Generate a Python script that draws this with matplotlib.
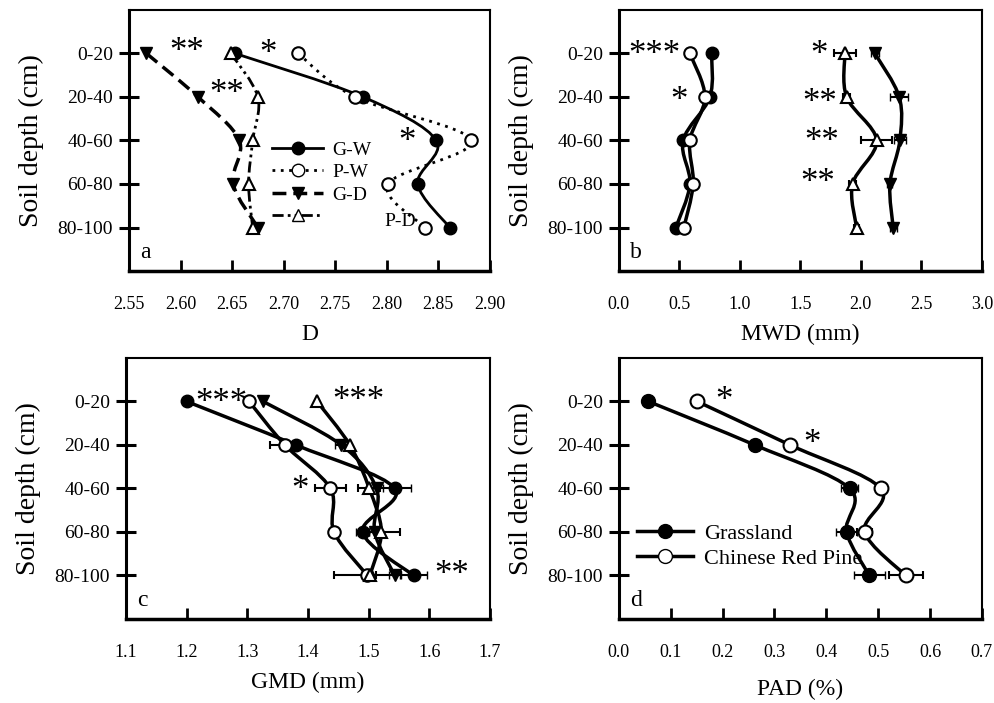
import matplotlib
matplotlib.use("Agg")
import matplotlib.pyplot as plt
from matplotlib.lines import Line2D
from matplotlib.path import Path
from matplotlib.patches import PathPatch
import numpy as np

plt.rcParams['font.family'] = ['Liberation Serif', 'DejaVu Serif']

depths = ['0-20', '20-40', '40-60', '60-80', '80-100']

# panel a: D
d_gw = [2.653, 2.777, 2.848, 2.830, 2.861]
d_pw = [2.714, 2.769, 2.882, 2.801, 2.837]
d_gd = [2.567, 2.617, 2.657, 2.651, 2.675]
d_pd = [2.649, 2.675, 2.670, 2.666, 2.670]

# panel b: MWD (mm)
mwd_gw = [0.766, 0.752, 0.531, 0.587, 0.471]
mwd_pw = [0.587, 0.711, 0.587, 0.614, 0.537]
mwd_pw_err = [0, 0, 0, 0, 0.03]
mwd_gd = [2.116, 2.317, 2.322, 2.240, 2.267]
mwd_gd_err = [0.03, 0.075, 0.05, 0.02, 0.03]
mwd_pd = [1.868, 1.882, 2.130, 1.931, 1.964]
mwd_pd_err = [0.09, 0.03, 0.13, 0.03, 0.02]

# panel c: GMD (mm)
gmd_gw = [1.200, 1.380, 1.543, 1.490, 1.574]
gmd_gw_err = [0, 0, 0.027, 0.01, 0.022]
gmd_pw = [1.303, 1.362, 1.437, 1.443, 1.498]
gmd_pw_err = [0, 0.024, 0.026, 0.005, 0.055]
gmd_gd = [1.326, 1.455, 1.513, 1.510, 1.543]
gmd_gd_err = [0, 0.01, 0.01, 0.01, 0.01]
gmd_pd = [1.415, 1.469, 1.501, 1.521, 1.502]
gmd_pd_err = [0, 0, 0.018, 0.03, 0.01]

# panel d: PAD (%)
pad_g = [0.057, 0.262, 0.445, 0.439, 0.483]
pad_g_err = [0.005, 0.005, 0.016, 0.02, 0.03]
pad_p = [0.151, 0.330, 0.505, 0.474, 0.553]
pad_p_err = [0.01, 0.005, 0.01, 0.015, 0.033]

ypos = np.arange(1, 6)


def smooth(ax, xs, ys, **kw):
    # excel-like smoothed line through the points (cardinal spline)
    pts = np.column_stack([xs, ys]).astype(float)
    verts = [pts[0]]
    codes = [Path.MOVETO]
    n = len(pts)
    for i in range(n - 1):
        p0 = pts[max(i - 1, 0)]
        p1 = pts[i]
        p2 = pts[i + 1]
        p3 = pts[min(i + 2, n - 1)]
        c1 = p1 + (p2 - p0) / 6.0
        c2 = p2 - (p3 - p1) / 6.0
        verts += [c1, c2, p2]
        codes += [Path.CURVE4] * 3
    ax.add_patch(PathPatch(Path(verts, codes), fill=False, **kw))


def style(ax, xlim, xticks, xfmt, xlabel, letter, labelpad=8):
    ax.set_ylim(6, 0)
    ax.set_xlim(*xlim)
    ax.set_yticks(ypos)
    ax.set_yticklabels(depths, fontsize=14)
    ax.set_xticks(xticks)
    ax.set_xticklabels([xfmt % v for v in xticks], fontsize=13)
    ax.tick_params(axis='y', direction='inout', length=15, width=2.2, pad=4)
    ax.tick_params(axis='x', direction='in', length=8, width=2, pad=18)
    for s in ax.spines.values():
        s.set_linewidth(1.5)
    ax.spines['bottom'].set_linewidth(2.5)
    ax.spines['left'].set_linewidth(2.2)
    ax.set_xlabel(xlabel, fontsize=17, labelpad=labelpad)
    ax.set_ylabel('Soil depth (cm)', fontsize=20, labelpad=10)
    ax.text(0.03, 0.03, letter, transform=ax.transAxes, fontsize=17,
            ha='left', va='bottom')


def star(ax, x, y, s):
    ax.text(x, y, s, fontsize=25, ha='center', va='center')


fig = plt.figure(figsize=(9.95, 7.03), dpi=100)
ax_a = fig.add_axes([0.1296, 0.6145, 0.3628, 0.3713])
ax_b = fig.add_axes([0.622, 0.6145, 0.3648, 0.3713])
ax_c = fig.add_axes([0.1266, 0.1195, 0.3658, 0.3713])
ax_d = fig.add_axes([0.622, 0.1195, 0.3648, 0.3713])

# ---- a
lw = 2
smooth(ax_a, d_gw, ypos, color='black', lw=lw, linestyle='-')
smooth(ax_a, d_pw, ypos, color='black', lw=lw, linestyle=(0, (1, 2)))
smooth(ax_a, d_gd, ypos, color='black', lw=lw + 0.5, linestyle=(0, (4, 2)))
smooth(ax_a, d_pd, ypos, color='black', lw=lw, linestyle=(0, (4, 1.5, 1, 1.5, 1, 1.5)))
ax_a.plot(d_gw, ypos, 'o', color='black', ms=9)
ax_a.plot(d_pw, ypos, 'o', mfc='white', mec='black', mew=1.5, ms=9)
ax_a.plot(d_gd, ypos, 'v', color='black', ms=9)
ax_a.plot(d_pd, ypos, '^', mfc='white', mec='black', mew=1.5, ms=9)
handles = [
    Line2D([], [], color='black', lw=lw, marker='o', ms=9),
    Line2D([], [], color='black', lw=lw, ls=(0, (1, 2)), marker='o', mfc='white', ms=9),
    Line2D([], [], color='black', lw=lw + 0.5, ls=(0, (4, 2)), marker='v', ms=9),
    Line2D([], [], color='black', lw=lw, ls=(0, (4, 1.5, 1, 1.5, 1, 1.5)), marker='^',
           mfc='white', ms=9),
]
ax_a.legend(handles, ['G-W', 'P-W', 'G-D', ''], loc='upper left',
            bbox_to_anchor=(0.37, 0.535), frameon=False, fontsize=14,
            handlelength=2.6, labelspacing=0.25, borderpad=0, handletextpad=0.5)
ax_a.text(2.813, 4.87, 'P-D', fontsize=14, ha='center', va='center')
star(ax_a, 2.606, 0.98, '**')
star(ax_a, 2.685, 1.02, '*')
star(ax_a, 2.645, 1.95, '**')
star(ax_a, 2.820, 3.05, '*')
style(ax_a, (2.55, 2.90), [2.55, 2.60, 2.65, 2.70, 2.75, 2.80, 2.85, 2.90], '%.2f', 'D', 'a')

# ---- b
lw = 2.5
for xs in [mwd_gw, mwd_pw, mwd_gd, mwd_pd]:
    smooth(ax_b, xs, ypos, color='black', lw=lw)
ax_b.errorbar(mwd_gw, ypos, fmt='o', color='black', ms=9)
ax_b.errorbar(mwd_pw, ypos, xerr=mwd_pw_err, fmt='o', mfc='white', mec='black',
              mew=1.5, ms=9, ecolor='black', capsize=3, elinewidth=1.5)
ax_b.errorbar(mwd_gd, ypos, xerr=mwd_gd_err, fmt='v', color='black', ms=9,
              capsize=3, elinewidth=1.5)
ax_b.errorbar(mwd_pd, ypos, xerr=mwd_pd_err, fmt='^', mfc='white', mec='black',
              mew=1.5, ms=9, ecolor='black', capsize=3, elinewidth=1.5)
star(ax_b, 0.29, 1.05, '***')
star(ax_b, 0.50, 2.1, '*')
star(ax_b, 1.65, 1.05, '*')
star(ax_b, 1.66, 2.15, '**')
star(ax_b, 1.68, 3.05, '**')
star(ax_b, 1.645, 4.0, '**')
style(ax_b, (0, 3.0), [0, 0.5, 1.0, 1.5, 2.0, 2.5, 3.0], '%.1f', 'MWD (mm)', 'b')

# ---- c
for xs in [gmd_gw, gmd_pw, gmd_gd, gmd_pd]:
    smooth(ax_c, xs, ypos, color='black', lw=lw)
ax_c.errorbar(gmd_gw, ypos, xerr=gmd_gw_err, fmt='o', color='black', ms=9,
              capsize=3, elinewidth=1.5)
ax_c.errorbar(gmd_pw, ypos, xerr=gmd_pw_err, fmt='o', mfc='white', mec='black',
              mew=1.5, ms=9, ecolor='black', capsize=3, elinewidth=1.5)
ax_c.errorbar(gmd_gd, ypos, xerr=gmd_gd_err, fmt='v', color='black', ms=9,
              capsize=3, elinewidth=1.5)
ax_c.errorbar(gmd_pd, ypos, xerr=gmd_pd_err, fmt='^', mfc='white', mec='black',
              mew=1.5, ms=9, ecolor='black', capsize=3, elinewidth=1.5)
star(ax_c, 1.257, 1.05, '***')
star(ax_c, 1.483, 1.0, '***')
star(ax_c, 1.387, 3.05, '*')
star(ax_c, 1.637, 5.0, '**')
style(ax_c, (1.1, 1.7), [1.1, 1.2, 1.3, 1.4, 1.5, 1.6, 1.7], '%.1f', 'GMD (mm)', 'c')

# ---- d
smooth(ax_d, pad_g, ypos, color='black', lw=lw)
smooth(ax_d, pad_p, ypos, color='black', lw=lw)
ax_d.errorbar(pad_g, ypos, xerr=pad_g_err, fmt='o', color='black', ms=10,
              capsize=3, elinewidth=1.5)
ax_d.errorbar(pad_p, ypos, xerr=pad_p_err, fmt='o', mfc='white', mec='black',
              mew=1.5, ms=10, ecolor='black', capsize=3, elinewidth=1.5)
star(ax_d, 0.202, 1.0, '*')
star(ax_d, 0.373, 2.0, '*')
hd = [Line2D([], [], color='black', lw=lw, marker='o', ms=10),
      Line2D([], [], color='black', lw=lw, marker='o', mfc='white', ms=10)]
ax_d.legend(hd, ['Grassland', 'Chinese Red Pine'], loc='upper left',
            bbox_to_anchor=(0.02, 0.41), frameon=False, fontsize=16,
            handlelength=2.5, labelspacing=0.2, borderpad=0, handletextpad=0.5)
style(ax_d, (0, 0.7), [0, 0.1, 0.2, 0.3, 0.4, 0.5, 0.6, 0.7], '%.1f', 'PAD (%)', 'd',
      labelpad=13)

fig.savefig('out.png', dpi=100)
